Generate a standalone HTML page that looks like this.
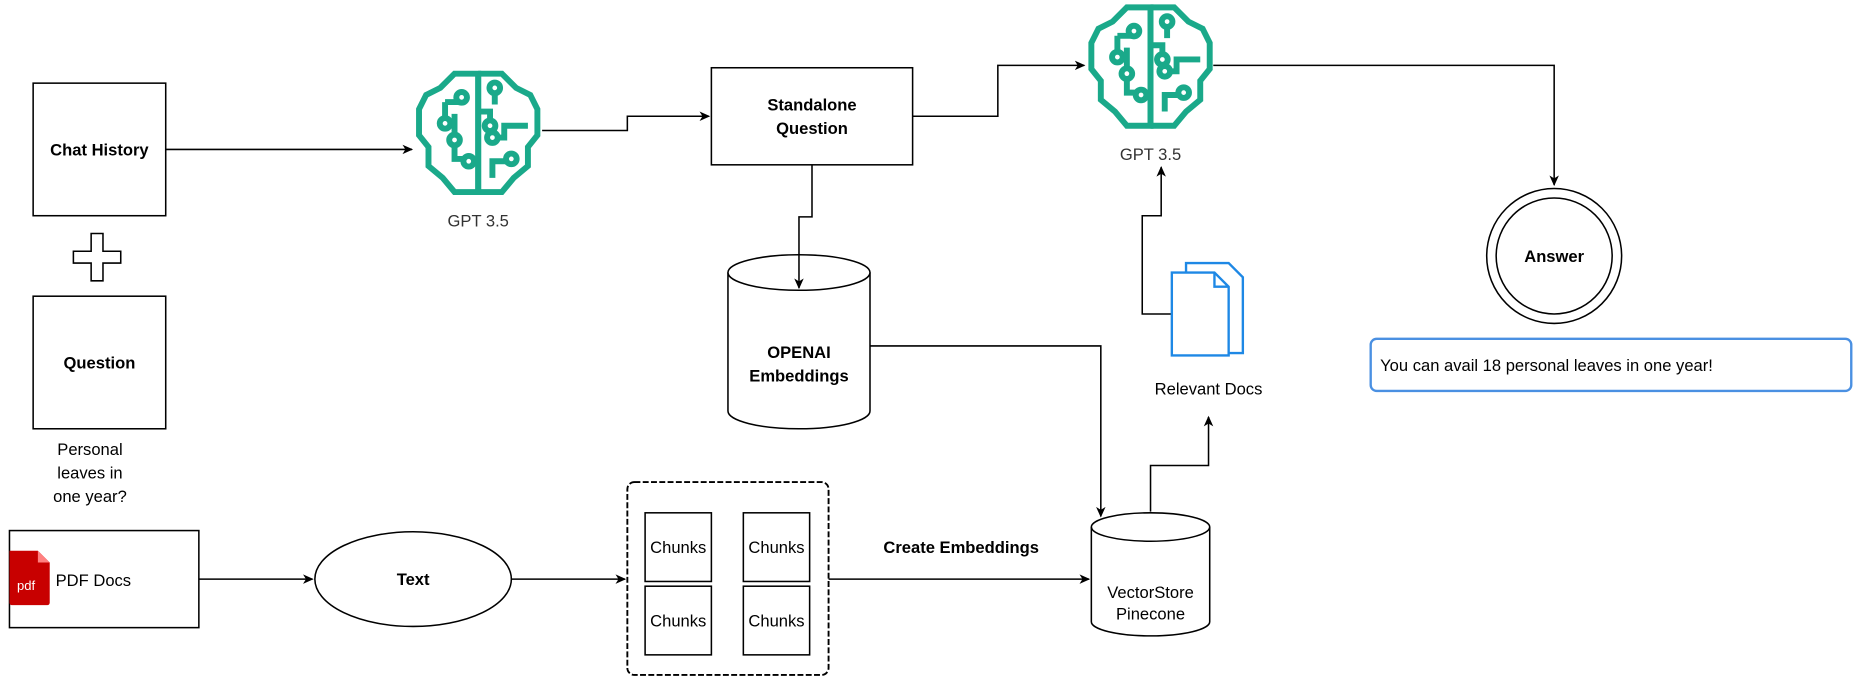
<!DOCTYPE html>
<html><head><meta charset="utf-8"><style>
html,body{margin:0;padding:0;background:#fff;}
svg{display:block;}
text{font-family:"Liberation Sans",Arial,sans-serif;}
</style></head><body>
<svg width="1856" height="680" viewBox="0 0 1568 574" xmlns="http://www.w3.org/2000/svg">
<defs>
<marker id="a" markerWidth="10" markerHeight="10" refX="8" refY="5" orient="auto" markerUnits="userSpaceOnUse">
<path d="M0,1 L9,5 L0,9 L2.5,5 Z" fill="#000"/>
</marker>
<g id="brain" fill="none" stroke="#1aa98a" stroke-width="5" stroke-linejoin="miter">
<path d="M54,4 L34,4 L22,16 L10,22 L4,34 L4,56 L12,66 L12,82 L24,92 L34,104 L54,104 Z"/>
<path d="M54,4 L74,4 L86,16 L98,22 L104,34 L104,56 L96,66 L96,82 L84,92 L74,104 L54,104"/>
<path d="M54,4 V104"/>
<path d="M26,28 H36 V26 M26,28 V42"/>
<circle cx="40" cy="24" r="4.5"/><circle cx="26" cy="46" r="4.5"/>
<path d="M34,38 V56 M34,64 V76 H42"/>
<circle cx="34" cy="60" r="4.5"/><circle cx="46" cy="78" r="4.5"/>
<path d="M54,36 H64 V44 M68,20 V30"/>
<circle cx="68" cy="16" r="4.5"/><circle cx="64" cy="48" r="4.5"/>
<path d="M96,48 H76 V58 H70"/><circle cx="66" cy="58" r="4.5"/>
<path d="M66,92 V78 H78"/><circle cx="82" cy="76" r="4.5"/>
</g>
</defs>
<rect width="1568" height="574" fill="#fff"/>
<g stroke="#000" stroke-width="1.3" fill="none">
<rect x="28" y="70" width="112" height="112"/>
<rect x="28" y="250" width="112" height="112"/>
<path d="M77,197 h10 v15 h15 v10 h-15 v15 h-10 v-15 h-15 v-10 h15 z"/>
<rect x="8" y="448" width="160" height="82"/>
<ellipse cx="349" cy="489" rx="83" ry="40"/>
<rect x="530" y="407" width="170" height="163" rx="6" stroke-dasharray="5 2" stroke-width="1.6"/>
<rect x="545" y="433" width="56" height="58"/>
<rect x="628" y="433" width="56" height="58"/>
<rect x="545" y="495" width="56" height="58"/>
<rect x="628" y="495" width="56" height="58"/>
<path d="M922,445 v80 a50,12 0 0 0 100,0 v-80"/>
<ellipse cx="972" cy="445" rx="50" ry="12"/>
<path d="M615,230 v117 a60,15 0 0 0 120,0 v-117"/>
<ellipse cx="675" cy="230" rx="60" ry="15" fill="#fff"/>
<rect x="601" y="57" width="170" height="82"/>
<circle cx="1313" cy="216" r="57"/>
<circle cx="1313" cy="216" r="49"/>
</g>
<rect x="1158" y="286" width="406" height="44" rx="5" fill="#fff" stroke="#4a90e2" stroke-width="2"/>
<!-- connectors -->
<g stroke="#000" stroke-width="1.3" fill="none" marker-end="url(#a)">
<path d="M140,126 H348"/>
<path d="M458,110 H530 V98 H599"/>
<path d="M771,98 H843 V55 H916"/>
<path d="M1025,55 H1313 V156"/>
<path d="M686,139 V183 H675 V243"/>
<path d="M735,292 H930 V436"/>
<path d="M168,489 H264"/>
<path d="M432,489 H528"/>
<path d="M700,489 H920"/>
<path d="M972,432 V393 H1021 V352"/>
<path d="M990,265 H965 V182 H981 V141"/>
</g>
<use href="#brain" x="350" y="58"/>
<use href="#brain" x="918" y="2"/>
<!-- pdf icon -->
<path d="M8,465 h24 l10,10 v34 a2,2 0 0 1 -2,2 h-30 a2,2 0 0 1 -2,-2 z" fill="#c80000"/>
<path d="M32,465 v10 h10 z" fill="#ff8080"/>
<text x="22" y="498" font-size="11" fill="#fff" text-anchor="middle">pdf</text>
<!-- docs icon -->
<g fill="#fff" stroke="#1e88e5" stroke-width="2">
<path d="M1002,222 h36 l12,12 v64 h-48 z"/>
<path d="M990,230 h36 l12,12 v58 h-48 z"/>
<path d="M1026,230 v12 h12" fill="none"/>
</g>
<g font-size="14" text-anchor="middle" fill="#000">
<text x="84" y="131" font-weight="bold">Chat History</text>
<text x="84" y="311" font-weight="bold">Question</text>
<text x="76" y="384">Personal</text>
<text x="76" y="404">leaves in</text>
<text x="76" y="424">one year?</text>
<text x="84" y="495" text-anchor="start" x2="0" dx="-37">PDF Docs</text>
<text x="349" y="494" font-weight="bold">Text</text>
<text x="573" y="467">Chunks</text>
<text x="656" y="467">Chunks</text>
<text x="573" y="529">Chunks</text>
<text x="656" y="529">Chunks</text>
<text x="812" y="467" font-weight="bold">Create Embeddings</text>
<text x="972" y="505">VectorStore</text>
<text x="972" y="523">Pinecone</text>
<text x="675" y="302" font-weight="bold">OPENAI</text>
<text x="675" y="322" font-weight="bold">Embeddings</text>
<text x="686" y="93" font-weight="bold">Standalone</text>
<text x="686" y="113" font-weight="bold">Question</text>
<text x="1313" y="221" font-weight="bold">Answer</text>
<text x="1021" y="333">Relevant Docs</text>
<text x="404" y="191" fill="#333">GPT 3.5</text>
<text x="972" y="135" fill="#333">GPT 3.5</text>
<text x="1166" y="313" text-anchor="start">You can avail 18 personal leaves in one year!</text>
</g>
</svg>
</body></html>
